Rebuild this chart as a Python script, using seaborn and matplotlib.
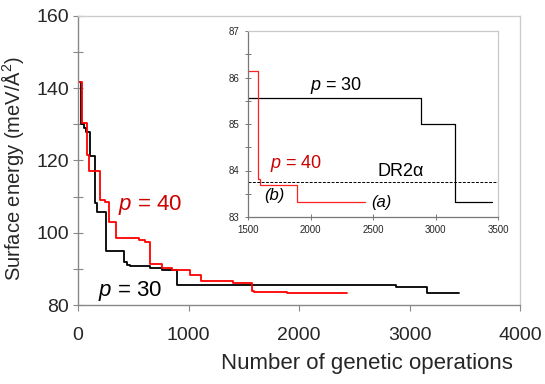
import matplotlib
matplotlib.use("Agg")
import matplotlib.pyplot as plt
from matplotlib.ticker import MultipleLocator
import seaborn as sns

# ---- data ----
p30_ops = [10, 30, 50, 72, 112, 154, 169, 250, 415, 440, 470, 655, 760, 900, 2880, 3155, 3450]
p30_energy = [141.7, 130.0, 128.9, 128.0, 121.2, 108.1, 105.7, 94.9, 91.8, 91.2, 90.9, 90.3, 89.6,
              85.55, 85.0, 83.33, 83.33]
p40_ops = [10, 36, 80, 102, 199, 244, 283, 344, 555, 606, 652, 757, 848, 1014, 1110, 1400, 1577,
           1593, 1893, 2432]
p40_energy = [141.7, 130.4, 121.5, 117.2, 109.2, 108.5, 103.1, 98.6, 98.1, 97.4, 91.4, 90.3, 89.7,
              88.3, 86.75, 86.15, 83.81, 83.68, 83.32, 83.32]
dr2a_energy = 83.76

main_xticks = [0, 1000, 2000, 3000, 4000]
main_yticks = [80, 100, 120, 140, 160]
inset_xticks = [1500, 2000, 2500, 3000, 3500]
inset_yticks = [83, 84, 85, 86, 87]

sns.set_style("white")
plt.rcParams["font.family"] = ["Liberation Sans", "DejaVu Sans"]
plt.rcParams["mathtext.fontset"] = "custom"
plt.rcParams["mathtext.rm"] = "Liberation Sans"
plt.rcParams["mathtext.it"] = "Liberation Sans:italic"

W, H = 545, 384
fig = plt.figure(figsize=(W / 100, H / 100), dpi=100)

# main axes (pixel box: left 78, right 520, top 16, bottom 305)
ax = fig.add_axes([78 / W, (H - 305) / H, (520 - 78) / W, (305 - 16) / H])
sns.lineplot(x=p30_ops, y=p30_energy, ax=ax, color="black", lw=1.3, drawstyle="steps-post",
             estimator=None, sort=False)
sns.lineplot(x=p40_ops, y=p40_energy, ax=ax, color="#ff0000", lw=1.3, drawstyle="steps-post",
             estimator=None, sort=False)
ax.set_xlim(0, 4000)
ax.set_ylim(80, 160)
ax.set_xticks(main_xticks)
ax.set_yticks(main_yticks)
ax.yaxis.set_minor_locator(MultipleLocator(10))
for s in ["left", "bottom"]:
    ax.spines[s].set_color("#888888")
for s in ["top", "right"]:
    ax.spines[s].set_color("#cccccc")
for s in ax.spines.values():
    s.set_linewidth(1.0)
ax.tick_params(axis="y", which="both", direction="inout", length=7, width=0.8, color="#888888",
               labelsize=14, pad=3, left=True)
ax.tick_params(axis="x", which="both", direction="out", length=4, width=0.8, color="#888888",
               labelsize=14, pad=12, bottom=True)
ax.set_xlabel("Number of genetic operations", fontsize=16)
ax.xaxis.set_label_coords(0.984, -0.165)
ax.xaxis.label.set_horizontalalignment("right")
ax.set_ylabel("Surface energy (meV/Å$^2$)", fontsize=14.5)
ax.yaxis.set_label_coords(-0.118, 0.474)

ax.text(362, 106.2, "$p$ = 40", color="#cc0000", fontsize=16, ha="left", va="baseline")
ax.text(181, 82.6, "$p$ = 30", color="black", fontsize=16, ha="left", va="baseline")

# inset (pixel box: left 248, right 498, top 31, bottom 217)
ins = fig.add_axes([248 / W, (H - 217) / H, (498 - 248) / W, (217 - 31) / H])
ins.set_facecolor("white")
sns.lineplot(x=p30_ops, y=p30_energy, ax=ins, color="black", lw=0.9, drawstyle="steps-post",
             estimator=None, sort=False)
sns.lineplot(x=p40_ops, y=p40_energy, ax=ins, color="#ff2020", lw=0.9, drawstyle="steps-post",
             estimator=None, sort=False)
ins.axhline(dr2a_energy, color="black", lw=0.7, ls=(0, (3, 1.5)))
ins.set_xlim(1500, 3500)
ins.set_ylim(83, 87)
ins.set_xticks(inset_xticks)
ins.set_yticks(inset_yticks)
ins.yaxis.set_minor_locator(MultipleLocator(0.5))
ins.set_xlabel("")
ins.set_ylabel("")
for s in ["left", "bottom"]:
    ins.spines[s].set_color("#777777")
for s in ["top", "right"]:
    ins.spines[s].set_color("#c8c8c8")
for s in ins.spines.values():
    s.set_linewidth(0.9)
ins.tick_params(axis="both", which="both", direction="inout", length=4, width=0.7,
                color="#777777", labelsize=7, pad=4, left=True, bottom=True)

ins.text(1998, 85.73, "$p$ = 30", color="black", fontsize=13, ha="left", va="baseline")
ins.text(1678, 84.05, "$p$ = 40", color="#cc0000", fontsize=13, ha="left", va="baseline")
ins.text(2534, 83.875, "DR2α", color="black", fontsize=13, ha="left", va="baseline")
ins.text(1630, 83.36, "(b)", color="black", fontsize=12, style="italic", ha="left", va="baseline")
ins.text(2486, 83.22, "(a)", color="black", fontsize=12, style="italic", ha="left", va="baseline")

fig.savefig("out.png", dpi=100)
